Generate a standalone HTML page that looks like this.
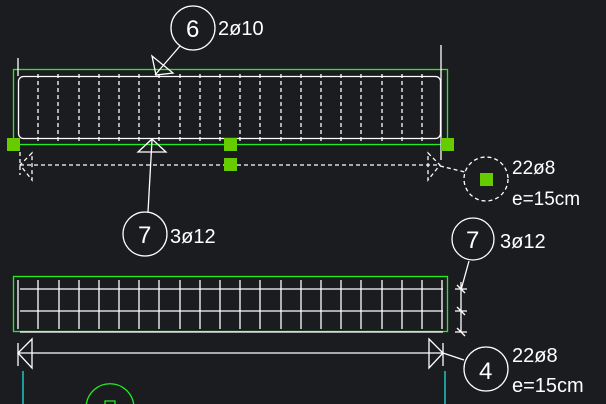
<!DOCTYPE html><html><head><style>html,body{margin:0;width:606px;height:404px;overflow:hidden;background:#1b1c20}svg{display:block}text{font-family:"Liberation Sans","DejaVu Sans",sans-serif;fill:#fff}</style></head><body>
<svg width="606" height="404" viewBox="0 0 606 404" fill="none" stroke="#fff" stroke-width="1.3">
<rect x="0" y="0" width="606" height="404" fill="#1b1c20" stroke="none"/>
<rect x="13.5" y="69.5" width="434" height="75" stroke="#22ee22"/>
<rect x="18.5" y="76.5" width="422" height="62" rx="5"/>
<line x1="18" y1="58" x2="18" y2="76"/><line x1="441" y1="45" x2="441" y2="160"/>
<g stroke-dasharray="4,3">
<path d="M38 74V142M58 74V142M79 74V142M99 74V142M119 74V142M139 74V142M159 74V142M180 74V142M200 74V142M220 74V142M240 74V142M260 74V142M281 74V142M301 74V142M321 74V142M341 74V142M361 74V142M382 74V142M402 74V142M422 74V142"/>
<line x1="20" y1="165" x2="440" y2="165"/>
<path d="M32 153L20 165L32 180ZM428 153L440 165L428 180Z"/>
<line x1="20" y1="152" x2="20" y2="175"/>
<line x1="440" y1="166" x2="465" y2="172"/>
<circle cx="486" cy="179" r="22"/>
</g>
<text x="512" y="174" font-size="19" stroke="none">22ø8</text>
<text x="512" y="205" font-size="19" stroke="none">e=15cm</text>
<circle cx="193" cy="28" r="22"/>
<text x="186" y="37" font-size="24" stroke="none">6</text>
<text x="218" y="35" font-size="20" stroke="none">2ø10</text>
<line x1="180" y1="46" x2="155" y2="75"/>
<path d="M152 56L173 73L156 75Z"/>
<circle cx="145" cy="234" r="22"/>
<text x="138" y="243" font-size="24" stroke="none">7</text>
<text x="170" y="243" font-size="20" stroke="none">3ø12</text>
<line x1="148" y1="212" x2="152" y2="140"/>
<path d="M152 139L138 152L166 152Z"/>
<circle cx="473" cy="239" r="21"/>
<text x="466" y="248" font-size="24" stroke="none">7</text>
<text x="500" y="248" font-size="20" stroke="none">3ø12</text>
<line x1="469" y1="261" x2="461" y2="290"/>
<rect x="13.5" y="276.5" width="434" height="55" stroke="#22ee22"/>
<path d="M20 289H443M20 311H443M20 332H443"/>
<path d="M18 280V329M38 280V329M59 280V329M79 280V329M99 280V329M119 280V329M139 280V329M159 280V329M180 280V329M200 280V329M220 280V329M240 280V329M260 280V329M281 280V329M301 280V329M321 280V329M341 280V329M361 280V329M382 280V329M402 280V329M422 280V329M442 280V329"/>
<path d="M461 282V332M455 289H467M455 311H467M455 332H467M457 285L465 293M457 307L465 315M457 328L465 336"/>
<line x1="18" y1="353" x2="443" y2="353"/>
<path d="M32 339L18 353L32 368ZM429 339L443 353L429 368Z"/>
<line x1="18" y1="343" x2="18" y2="366"/><line x1="443" y1="343" x2="443" y2="366"/>
<line x1="443" y1="353" x2="464" y2="360"/>
<circle cx="486" cy="369" r="22"/>
<text x="479" y="379" font-size="24" stroke="none">4</text>
<text x="512" y="362" font-size="20" stroke="none">22ø8</text>
<text x="512" y="392" font-size="20" stroke="none">e=15cm</text>
<path d="M23 371V404M445 371V404" stroke="#2dd"/>
<path d="M86.3 404A24 24 0 0 1 133.7 404" stroke="#22ee22"/>
<path d="M105 404V401H115V404" stroke="#22ee22"/>
<g fill="#66cc00" stroke="none">
<rect x="7" y="138" width="13" height="13"/><rect x="224" y="138" width="13" height="13"/><rect x="224" y="158" width="13" height="13"/><rect x="441" y="138" width="13" height="13"/><rect x="480" y="173" width="13" height="13"/>
</g>
</svg></body></html>
